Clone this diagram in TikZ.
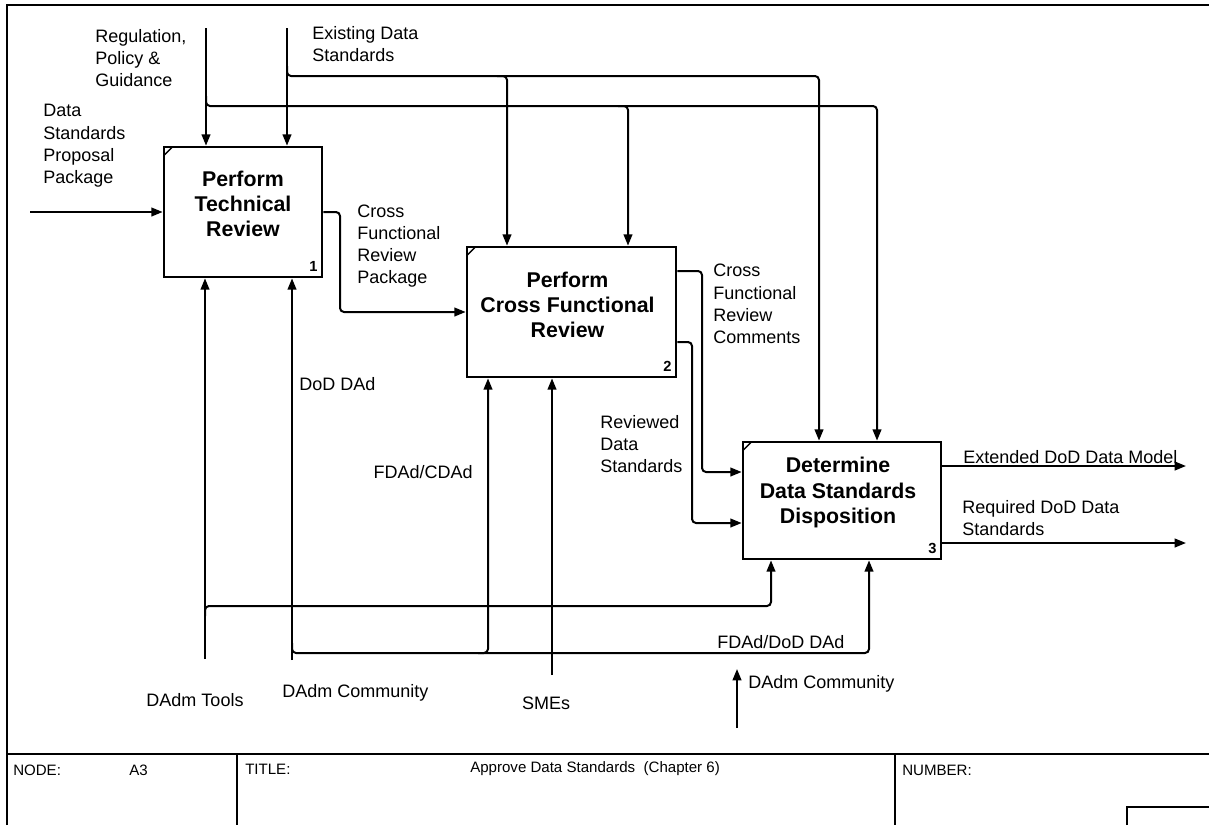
\documentclass[tikz,border=0pt]{standalone}
\usepackage{fontspec}
\setmainfont{Liberation Sans}
\usetikzlibrary{arrows.meta,calc}
\begin{document}
\begin{tikzpicture}[x=0.75pt,y=-0.75pt,
  flow/.style={line width=1.5pt, rounded corners=3pt, -{Triangle[length=8.5pt,width=6.5pt]}},
  frameline/.style={line width=1.5pt},
  proc/.style={draw, line width=2pt, inner sep=0pt},
  ptitle/.style={font=\bfseries\fontsize{16}{19}\selectfont, align=center, inner sep=0pt},
  pnum/.style={font=\bfseries\fontsize{11}{13}\selectfont, inner sep=0pt},
  lbl/.style={font=\fontsize{13.5}{16.7}\selectfont, align=left, inner sep=0pt},
  ftxt/.style={font=\fontsize{11.3}{13}\selectfont, inner sep=0pt},
  tick/.style={line width=1pt}]
\useasboundingbox (0,0) rectangle (1209,825);

% sheet frame and footer
\draw[frameline] (7,825) -- (7,5) -- (1209,5);
\draw[frameline] (7,754) -- (1209,754);
\draw[line width=1pt] (237,754) -- (237,825);
\draw[line width=1pt] (895,754) -- (895,825);
\draw[line width=1pt] (1127,825) -- (1127,807) -- (1209,807);
\node[ftxt, anchor=west] (f-node) at (13,770) {NODE:};
\node[ftxt, anchor=west] (f-a3) at (129,770) {A3};
\node[ftxt, anchor=west] (f-title) at (245,769) {TITLE:};
\node[ftxt, anchor=west] (f-name) at (470,769) {Approve Data Standards\ \ (Chapter 6)};
\node[ftxt, anchor=west] (f-num) at (902,770) {NUMBER:};

% activity boxes
\node[proc, minimum width=118.5pt, minimum height=97.5pt] (b1) at (243,212) {};
\node[proc, minimum width=156.75pt, minimum height=97.5pt] (b2) at (571.5,312) {};
\node[proc, minimum width=148.5pt, minimum height=87.75pt] (b3) at (842,500.5) {};
\foreach \b in {b1,b2,b3}
  \draw[tick] ($(\b.north west)+(1,10)$) -- ($(\b.north west)+(10,1)$);
\node[ptitle] (b1t) at ($(b1.center)+(0,-8)$) {Perform\\Technical\\Review};
\node[ptitle] (b2t) at ($(b2.center)+(-4,-7)$) {Perform\\Cross Functional\\Review};
\node[ptitle] (b3t) at ($(b3.center)+(-4,-8)$) {Determine\\Data Standards\\Disposition};
\node[pnum] (b1n) at ($(b1.south east)+(-10,-12)$) {1};
\node[pnum] (b2n) at ($(b2.south east)+(-10,-12)$) {2};
\node[pnum] (b3n) at ($(b3.south east)+(-10,-12)$) {3};

% free ends and bend points
\coordinate (dsp) at (30,212);
\coordinate (rpg) at (206,28);
\coordinate (eds) at (287,28);
\coordinate (h1) at (877,106);
\coordinate (h1b) at (628,106);
\coordinate (h2) at (819,76);
\coordinate (h2b) at (507,76);
\coordinate (k1) at (340,262);
\coordinate (k2) at (702,271);
\coordinate (k2b) at (702,472);
\coordinate (k3) at (692,342);
\coordinate (k3b) at (692,523);
\coordinate (o1) at (1186,466);
\coordinate (o2) at (1186,543);
\coordinate (tools) at (205,659);
\coordinate (comm) at (292,660);
\coordinate (m1) at (771,606);
\coordinate (m2) at (869,653);
\coordinate (m2b) at (488,653);
\coordinate (sme) at (552,675);
\coordinate (dc2) at (737,728);
\coordinate (dc2t) at (737,669);

% inputs and outputs
\draw[flow] (dsp) -- (dsp -| b1.west);
\draw[flow] (b1.east) -- (b1.east -| k1) -- (k1 |- b2.west) -- (b2.west);
\draw[flow] (b2.east |- k2) -- (k2) -- (k2b) -- (k2b -| b3.west);
\draw[flow] (b2.east |- k3) -- (k3) -- (k3b) -- (k3b -| b3.west);
\draw[flow] (b3.east |- o1) -- (o1);
\draw[flow] (b3.east |- o2) -- (o2);

% controls
\draw[flow] (rpg) -- (rpg |- b1.north);
\draw[flow] (eds) -- (eds |- b1.north);
\draw[flow] ($(rpg |- h1)+(0,-10)$) -- (rpg |- h1) -- (h1) -- (h1 |- b3.north);
\draw[flow] ($(h1b)+(-10,0)$) -- (h1b) -- (h1b |- b2.north);
\draw[flow] ($(eds |- h2)+(0,-10)$) -- (eds |- h2) -- (h2) -- (h2 |- b3.north);
\draw[flow] ($(h2b)+(-10,0)$) -- (h2b) -- (h2b |- b2.north);

% mechanisms
\draw[flow] (tools) -- (tools |- b1.south);
\draw[flow] (comm) -- (comm |- b1.south);
\draw[flow] ($(tools |- m1)+(0,10)$) -- (tools |- m1) -- (m1) -- (m1 |- b3.south);
\draw[flow] ($(comm |- m2)+(0,-10)$) -- (comm |- m2) -- (m2) -- (m2 |- b3.south);
\draw[flow] ($(m2b)+(-10,0)$) -- (m2b) -- (m2b |- b2.south);
\draw[flow] (sme) -- (sme |- b2.south);
\draw[flow] (dc2) -- (dc2t);

% arrow labels
\node[lbl, anchor=west] (l-rpg) at (95,58) {Regulation,\\Policy \&\\Guidance};
\node[lbl, anchor=west] (l-eds) at (312,44) {Existing Data\\Standards};
\node[lbl, anchor=west] (l-dsp) at (43,146) {Data\\Standards\\Proposal\\Package};
\node[lbl, anchor=west] (l-crp) at (357,246) {Cross\\Functional\\Review\\Package};
\node[lbl, anchor=west] (l-crc) at (713,304) {Cross\\Functional\\Review\\Comments};
\node[lbl, anchor=west] (l-rds) at (600,444) {Reviewed\\Data\\Standards};
\node[lbl, anchor=base west] (l-ext) at (963,463) {Extended DoD Data Model};
\node[lbl, anchor=west] (l-req) at (962,518) {Required DoD Data\\Standards};
\node[lbl, anchor=west] (l-dod) at (299,384) {DoD DAd};
\node[lbl, anchor=east] (l-fc) at (473,472) {FDAd/CDAd};
\node[lbl, anchor=west] (l-fd) at (717,642) {FDAd/DoD DAd};
\node[lbl] (l-tools) at (195,700) {DAdm Tools};
\node[lbl, anchor=west] (l-comm) at (282,693) {DAdm Community};
\node[lbl] (l-sme) at (546,703) {SMEs};
\node[lbl, anchor=west] (l-comm2) at (748,684) {DAdm Community};
\end{tikzpicture}
\end{document}
